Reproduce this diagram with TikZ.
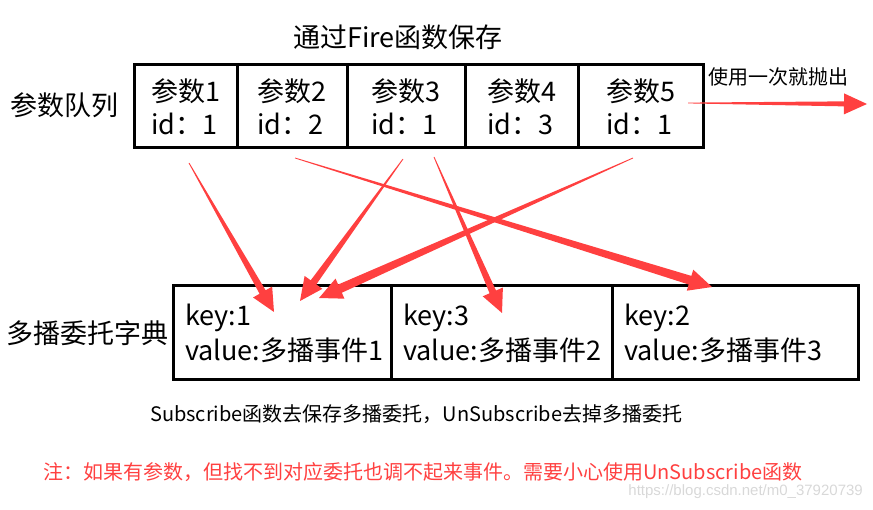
\documentclass[tikz,border=0pt]{standalone}
\usepackage{fontspec}
\setmainfont{Noto Sans CJK SC}
\newfontfamily\markfont{Liberation Sans}
\usetikzlibrary{positioning}
\usetikzlibrary{calc}
\definecolor{arrowred}{RGB}{255,64,64}
\definecolor{markgray}{RGB}{216,216,216}
% tapered arrow: start, tip, shaft half width, head half width, head length
\newcommand{\taper}[5]{%
  \path (#2) coordinate (tt) ($(#2)!#5!(#1)$) coordinate (hb);
  \fill[arrowred] ($(#1)!0.4pt!90:(tt)$) -- ($(hb)!#3!90:(tt)$) -- ($(hb)!#4!90:(tt)$)
    -- (tt) -- ($(hb)!#4!-90:(tt)$) -- ($(hb)!#3!-90:(tt)$) -- ($(#1)!0.4pt!-90:(tt)$) -- cycle;
}

\begin{document}
\begin{tikzpicture}[x=1pt,y=-1pt,
  cell/.style={draw, line width=3pt, outer sep=0pt, align=left, minimum height=83pt,
    font=\fontsize{27}{33}\selectfont},
  slot/.style={draw, line width=3pt, outer sep=0pt, align=left, minimum height=94pt,
    inner xsep=12pt, font=\fontsize{27}{35}\selectfont},
  label/.style={inner sep=0pt, font=\fontsize{27}{32}\selectfont},
  note/.style={inner sep=0pt, font=\fontsize{20}{24}\selectfont}]
\useasboundingbox (0,0) rectangle (873,510);

% queue
\node[label] (title) at (398,37) {通过Fire函数保存};
\node[label] (qname) at (64,105) {参数队列};
\node[cell, anchor=north west, minimum width=103pt] (q1) at (134,65) {参数1\\id：1};
\node[cell, right=0pt of q1, minimum width=110pt] (q2) {参数2\\id：2};
\node[cell, right=0pt of q2, minimum width=118pt] (q3) {参数3\\id：1};
\node[cell, right=0pt of q3, minimum width=113pt] (q4) {参数4\\id：3};
\node[cell, right=0pt of q4, minimum width=125pt] (q5) {参数5\\id：1};
\node[note, anchor=west] (used) at (708,77) {使用一次就抛出};

% dictionary
\node[label] (dname) at (87,333) {多播委托字典};
\node[slot, anchor=north west, text width=194pt] (d1) at (173,286) {key:1\\value:多播事件1};
\node[slot, right=0pt of d1, text width=197pt] (d2) {key:3\\value:多播事件2};
\node[slot, right=0pt of d2, text width=222pt] (d3) {key:2\\value:多播事件3};

\node[note, anchor=west] (sub) at (150,414) {Subscribe函数去保存多播委托，UnSubscribe去掉多播委托};
\node[note, anchor=west, text=arrowred] (warn) at (43,472)
  {注：如果有参数，但找不到对应委托也调不起来事件。需要小心使用UnSubscribe函数};
\node[inner sep=0pt, anchor=east, text=markgray, font=\markfont\fontsize{15}{18}\selectfont] (mark)
  at (863,492) {https://blog.csdn.net/m0\_37920739};

% arrows
\coordinate (s1) at (189,163); \coordinate (t1) at (274,312);
\coordinate (s2) at (403,159); \coordinate (t2) at (300,301);
\coordinate (s3) at (633,158); \coordinate (t3) at (319,298);
\coordinate (s4) at (434,157); \coordinate (t4) at (502,313);
\coordinate (s5) at (295,158); \coordinate (t5) at (712,287);
\coordinate (s6) at (688,103); \coordinate (t6) at (867,104);
\taper{s1}{t1}{3.5pt}{11pt}{23pt}
\taper{s2}{t2}{3.5pt}{11pt}{23pt}
\taper{s3}{t3}{4.5pt}{11pt}{23pt}
\taper{s4}{t4}{3.5pt}{11pt}{23pt}
\taper{s5}{t5}{4.5pt}{11pt}{23pt}
\taper{s6}{t6}{2.5pt}{10.5pt}{23pt}
\end{tikzpicture}
\end{document}
